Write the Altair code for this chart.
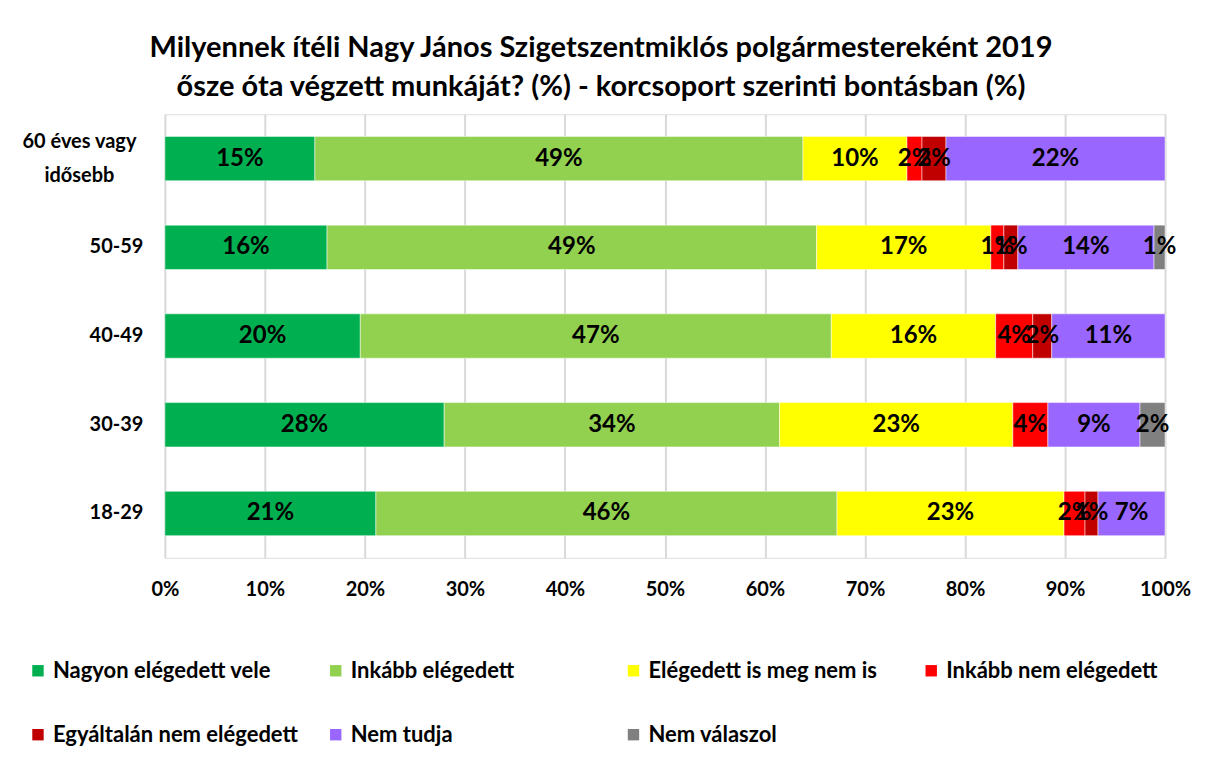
import altair as alt
import pandas as pd

groups = ["60 éves vagy\nidősebb", "50-59", "40-49", "30-39", "18-29"]
categories = [
    "Nagyon elégedett vele",
    "Inkább elégedett",
    "Elégedett is meg nem is",
    "Inkább nem elégedett",
    "Egyáltalán nem elégedett",
    "Nem tudja",
    "Nem válaszol",
]
colors = ["#00B050", "#92D050", "#FFFF00", "#FF0000", "#C00000", "#9966FF", "#808080"]

nagyon = [15.0, 16.2, 19.5, 27.9, 21.1]
inkabb = [48.8, 48.9, 47.0, 33.5, 46.1]
is_meg = [10.4, 17.4, 16.4, 23.3, 22.7]
inkabb_nem = [1.5, 1.3, 3.7, 3.5, 2.1]
egyaltalan = [2.4, 1.4, 1.9, 0.0, 1.3]
nem_tudja = [21.9, 13.6, 11.3, 9.2, 6.7]
nem_valaszol = [0.0, 1.1, 0.0, 2.5, 0.0]

series = [nagyon, inkabb, is_meg, inkabb_nem, egyaltalan, nem_tudja, nem_valaszol]

rows = []
for ci, (cat, vals) in enumerate(zip(categories, series)):
    for g, v in zip(groups, vals):
        if v > 0:
            rows.append({"group": g, "cat": cat, "order": ci, "value": v,
                         "label": f"{round(v)}%"})
df = pd.DataFrame(rows)

FONT = "Lato"
MULTI = "indexof(datum.value, '\\n') >= 0"

base = alt.Chart(df).transform_stack(
    stack="value", groupby=["group"], as_=["v0", "v1"],
    sort=[alt.SortField("order", order="ascending")]
).transform_joinaggregate(
    total="sum(value)", groupby=["group"]
).transform_calculate(
    x0="datum.v0 / datum.total",
    x1="datum.v1 / datum.total",
    mid="(datum.v0 + datum.v1) / 2 / datum.total",
)

yenc = alt.Y("group:N", sort=groups, title=None,
             scale=alt.Scale(paddingInner=0.5, paddingOuter=0.25),
             axis=alt.Axis(labelExpr="split(datum.value, '\\n')",
                           labelFont=FONT, labelFontSize=20, labelFontWeight="bold",
                           labelColor="#000000", labelLineHeight=34,
                           labelPadding={"condition": {"test": MULTI, "value": 86}, "value": 22},
                           labelAlign={"condition": {"test": MULTI, "value": "center"}, "value": "right"},
                           labelOffset={"condition": {"test": MULTI, "value": -17}, "value": 0},
                           ticks=False, domain=False, grid=False))

bars = base.mark_bar(stroke="white", strokeWidth=0.5).encode(
    x=alt.X("x0:Q", scale=alt.Scale(domain=[0, 1], nice=False),
            axis=alt.Axis(format=".0%", values=[i / 10 for i in range(11)],
                          labelFont=FONT, labelFontSize=20, labelFontWeight="bold",
                          labelColor="#000000", labelPadding=22, labelFlush=False,
                          ticks=False, domain=False, grid=True,
                          gridColor="#D9D9D9", gridWidth=2, title=None)),
    x2="x1:Q",
    y=yenc,
    color=alt.Color("cat:N", sort=categories,
                    scale=alt.Scale(domain=categories, range=colors),
                    legend=alt.Legend(title=None, orient="none", legendX=-138, legendY=546,
                                      columns=4, gridAlign="all", columnPadding=26,
                                      rowPadding=42, symbolType="square", symbolSize=130,
                                      symbolStrokeWidth=0, labelFont=FONT,
                                      labelFontSize=22, labelFontWeight="bold",
                                      labelColor="#000000", labelLimit=400,
                                      symbolOffset=0, padding=0, labelOffset=4,
                                      direction="horizontal")),
)

texts = base.mark_text(font=FONT, fontSize=24, fontWeight="bold", color="#000000").encode(
    x="mid:Q",
    y=alt.Y("group:N", sort=groups),
    text="label:N",
)

chart = alt.layer(bars, texts).properties(
    width=1001,
    height=444,
    title=alt.TitleParams(
        ["Milyennek ítéli Nagy János Szigetszentmiklós polgármestereként 2019",
         "ősze óta végzett munkáját? (%) - korcsoport szerinti bontásban (%)"],
        font=FONT, fontSize=29, fontWeight="bold", color="#000000",
        anchor="middle", dx=-64, offset=12, lineHeight=39),
    autosize=alt.AutoSizeParams(type="none"),
    padding={"left": 157, "top": 106, "right": 40, "bottom": 190},
).configure_view(stroke=None).configure(background="white")

chart.save("out.html", embed_options={"renderer": "svg", "actions": False})
